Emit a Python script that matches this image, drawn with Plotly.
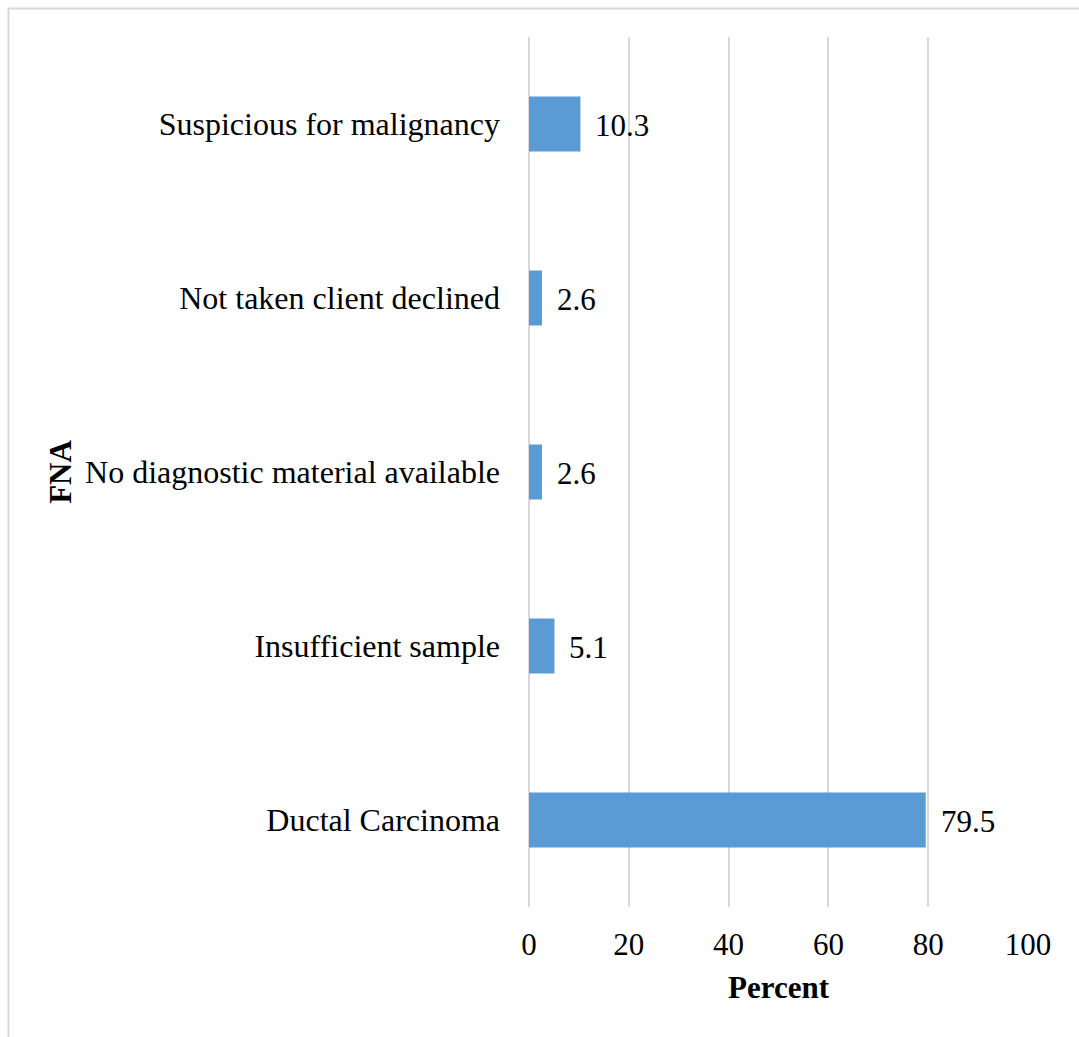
import plotly.graph_objects as go

# FNA result categories (bottom to top) and their share in percent
categories = [
    "Ductal Carcinoma",
    "Insufficient sample",
    "No diagnostic material available",
    "Not taken client declined",
    "Suspicious for malignancy",
]
percent = [79.5, 5.1, 2.6, 2.6, 10.3]
x_ticks = [0, 20, 40, 60, 80, 100]

W, H = 1079, 1037
L, R, T, B = 529, 51, 37, 130
plot_w = W - L - R
plot_h = H - T - B

font_family = "Liberation Serif, Times New Roman, serif"
text_size = 32
bar_color = "#5b9bd5"
grid_color = "#d9d9d9"

fig = go.Figure(
    go.Bar(
        x=percent,
        y=categories,
        orientation="h",
        marker=dict(color=bar_color, line=dict(width=0)),
        width=0.316,
        hoverinfo="x+y",
    )
)

# value labels just right of each bar end
for cat, val in zip(categories, percent):
    fig.add_annotation(
        x=val, y=cat, text=f"{val:.1f}", showarrow=False,
        xanchor="left", xshift=13, yshift=-1,
        font=dict(family=font_family, size=31, color="black"),
    )

# light frame around the chart area
def px_to_paper_x(px):
    return (px - L) / plot_w

def px_to_paper_y(py):
    return (H - B - py) / plot_h

fig.add_shape(
    type="rect", xref="paper", yref="paper",
    x0=px_to_paper_x(8.5), x1=px_to_paper_x(1090),
    y0=px_to_paper_y(1050), y1=px_to_paper_y(8.5),
    line=dict(color="#d9d9d9", width=2), fillcolor="rgba(0,0,0,0)",
    layer="below",
)

fig.update_layout(
    width=W, height=H,
    margin=dict(l=L, r=R, t=T, b=B, pad=0),
    paper_bgcolor="white", plot_bgcolor="white",
    showlegend=False,
    font=dict(family=font_family, size=text_size, color="black"),
    xaxis=dict(
        range=[0, 100], tickvals=x_ticks, showgrid=True,
        gridcolor=grid_color, gridwidth=2,
        zeroline=True, zerolinecolor=grid_color, zerolinewidth=2,
        showline=False, ticks="", ticklabelstandoff=16,
        tickfont=dict(family=font_family, size=31, color="black"),
        title=dict(text="<b>Percent</b>", standoff=15,
                   font=dict(family=font_family, size=31, color="black")),
        fixedrange=True,
    ),
    yaxis=dict(
        categoryorder="array", categoryarray=categories,
        range=[-0.5, 4.5], showgrid=False, showline=False,
        ticks="", ticklabelstandoff=28,
        tickfont=dict(family=font_family, size=text_size, color="black"),
        title=dict(text="<b>FNA</b>", standoff=4,
                   font=dict(family=font_family, size=31, color="black")),
        fixedrange=True,
    ),
)

fig.write_html("out.html")
